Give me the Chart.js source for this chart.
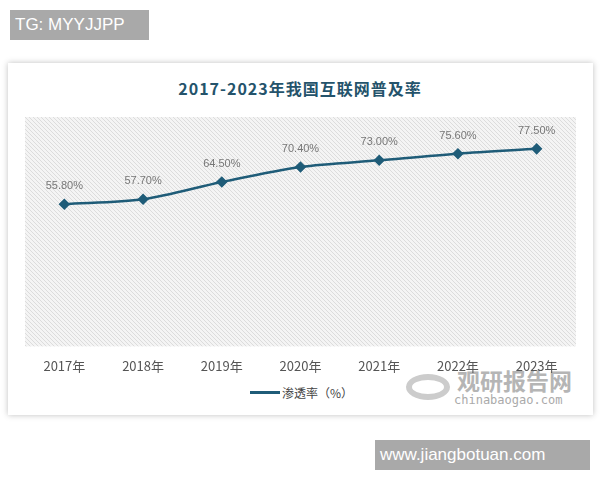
<!DOCTYPE html>
<html><head><meta charset="utf-8">
<script src="https://cdn.jsdelivr.net/npm/chart.js@4"></script>
<style>
body{margin:0;width:600px;height:480px;background:#fff;position:relative;overflow:hidden;font-family:"Noto Sans CJK SC","Noto Sans",sans-serif}
.tag{position:absolute;background:#a9a9a9;color:#fff;font-family:"Liberation Sans",sans-serif;font-size:17px;line-height:30px}
.card{position:absolute;left:8px;top:63px;width:585px;height:352px;background:#fff;box-shadow:0 0 6px rgba(0,0,0,.25)}
.title{position:absolute;left:0;width:600px;top:76px;text-align:center;font-weight:bold;font-size:16px;color:#24536b;letter-spacing:1px}
.legend{position:absolute;top:384px;left:250px;font-size:12px;color:#444;display:flex;align-items:center}
.legend i{display:inline-block;width:30px;height:3px;background:#1f5c78;margin-right:2px}
.wm{position:absolute;left:457px;top:367px;color:#bbb;font-weight:bold}
.logo{position:absolute;left:406px;top:374px;width:44px;height:26px;border-radius:50%;border:6px solid #ccc;box-sizing:border-box}
canvas{position:absolute;left:0;top:0}
</style></head><body>
<div class="tag" style="left:10px;top:10px;width:134px;padding-left:5px">TG: MYYJJPP</div>
<div class="card"></div>
<div class="title">2017-2023年我国互联网普及率</div>
<div class="legend"><i></i>渗透率（%）</div>
<div class="logo"></div>
<div class="wm"><div style="font-size:23px;line-height:26px;color:#b5b5b5">观研报告网</div><div style="font-size:12px;font-weight:normal;color:#aaa;font-family:'DejaVu Sans Mono',monospace;margin-left:-3px">chinabaogao.com</div></div>
<div class="tag" style="left:375px;top:440px;width:210px;padding-left:5px;font-size:17px">www.jiangbotuan.com</div>
<canvas id="c" width="600" height="480"></canvas>
<script>
const years = ['2017年','2018年','2019年','2020年','2021年','2022年','2023年'];
const rates = [55.8, 57.7, 64.5, 70.4, 73.0, 75.6, 77.5];

function hatch() {
  const p = document.createElement('canvas');
  p.width = 4; p.height = 4;
  const g = p.getContext('2d');
  g.fillStyle = '#f4f4f4'; g.fillRect(0, 0, 4, 4);
  g.strokeStyle = '#dcdcdc'; g.lineWidth = 1;
  g.beginPath(); g.moveTo(0, 0); g.lineTo(4, 4); g.moveTo(-1, 3); g.lineTo(1, 5); g.moveTo(3, -1); g.lineTo(5, 1); g.stroke();
  return g.createPattern(p, 'repeat');
}

const bgPlugin = {
  id: 'bg',
  beforeDraw(chart) {
    const a = chart.chartArea, ctx = chart.ctx;
    ctx.save(); ctx.fillStyle = hatch(); ctx.fillRect(a.left, a.top, a.right - a.left, a.bottom - a.top); ctx.restore();
  }
};
const labelPlugin = {
  id: 'labels',
  afterDatasetsDraw(chart) {
    const ctx = chart.ctx;
    ctx.save();
    ctx.font = '11px "Liberation Sans", sans-serif';
    ctx.fillStyle = '#777'; ctx.textAlign = 'center';
    chart.getDatasetMeta(0).data.forEach((pt, i) => {
      ctx.fillText(rates[i].toFixed(2) + '%', pt.x, pt.y - 15);
    });
    ctx.restore();
  }
};

new Chart(document.getElementById('c'), {
  type: 'line',
  data: { labels: years, datasets: [{
    data: rates, borderColor: '#1f5c78', backgroundColor: '#1f5c78', borderWidth: 2.5,
    tension: 0.3, pointStyle: 'rectRot', pointRadius: 4
  }]},
  options: {
    responsive: false, animation: false,
    layout: { padding: { left: 25, right: 24, top: 117, bottom: 102 } },
    plugins: { legend: { display: false }, tooltip: { enabled: false } },
    scales: {
      x: { offset: true, grid: { display: false }, border: { display: false },
           ticks: { color: '#555', font: { size: 13, family: '"Noto Sans CJK SC"' }, padding: 4, maxRotation: 0 } },
      y: { display: false, min: 0, max: 90 }
    }
  },
  plugins: [bgPlugin, labelPlugin]
});
</script>
</body></html>
